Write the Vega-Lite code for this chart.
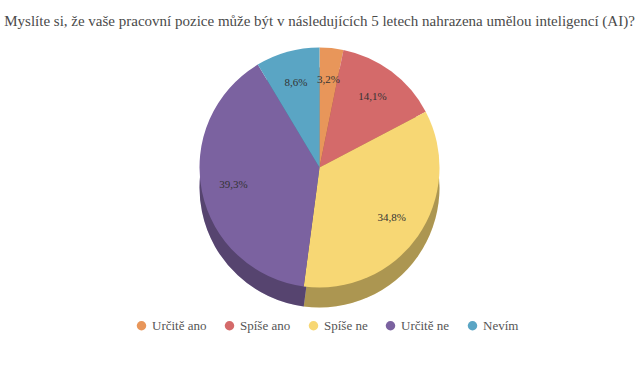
{
  "$schema": "https://vega.github.io/schema/vega-lite/v6.json",
  "autosize": {"type": "fit", "contains": "padding"},
  "width": 639,
  "height": 365,
  "padding": {"top": 14, "bottom": 67, "left": 5, "right": 5},
  "background": "white",
  "view": {"stroke": null},
  "title": {
    "text": "Myslíte si, že vaše pracovní pozice může být v následujících 5 letech nahrazena umělou inteligencí (AI)?",
    "font": "Liberation Serif",
    "fontSize": 15,
    "fontWeight": "normal",
    "color": "#4a4a4a",
    "offset": 8
  },
  "data": {
    "values": [
      {"odpoved": "Určitě ano", "podil": 3.2, "poradi": 1, "popisek": "3,2%"},
      {"odpoved": "Spíše ano", "podil": 14.1, "poradi": 2, "popisek": "14,1%"},
      {"odpoved": "Spíše ne", "podil": 34.8, "poradi": 3, "popisek": "34,8%"},
      {"odpoved": "Určitě ne", "podil": 39.3, "poradi": 4, "popisek": "39,3%"},
      {"odpoved": "Nevím", "podil": 8.6, "poradi": 5, "popisek": "8,6%"}
    ]
  },
  "encoding": {
    "theta": {"field": "podil", "type": "quantitative", "stack": true},
    "order": {"field": "poradi", "type": "quantitative"}
  },
  "layer": [
    {
      "mark": {"type": "arc", "outerRadius": 120, "yOffset": 20},
      "encoding": {
        "color": {
          "field": "odpoved",
          "type": "nominal",
          "scale": {
            "domain": ["Určitě ano", "Spíše ano", "Spíše ne", "Určitě ne", "Nevím"],
            "range": ["#E8965A", "#D46A6A", "#F7D774", "#7B62A0", "#5AA5C4"]
          },
          "legend": {
            "orient": "none",
            "legendX": 130,
            "legendY": 282,
            "direction": "horizontal",
            "title": null,
            "symbolType": "circle",
            "symbolSize": 90,
            "labelFont": "Liberation Serif",
            "labelFontSize": 13,
            "labelColor": "#555555",
            "columnPadding": 16
          }
        }
      }
    },
    {
      "mark": {"type": "arc", "outerRadius": 120, "yOffset": 20, "color": "black", "opacity": 0.3},
      "encoding": {}
    },
    {
      "mark": {"type": "arc", "outerRadius": 120},
      "encoding": {
        "color": {
          "field": "odpoved",
          "type": "nominal"
        }
      }
    },
    {
      "mark": {"type": "text", "radius": 88, "font": "Liberation Serif", "fontSize": 11, "color": "#333333"},
      "encoding": {"text": {"field": "popisek", "type": "nominal"}}
    }
  ]
}
